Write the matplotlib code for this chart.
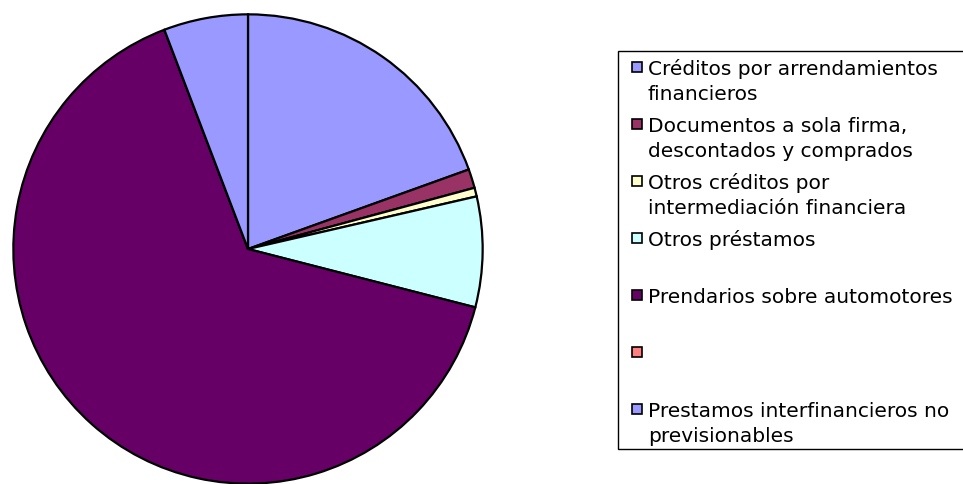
import matplotlib
matplotlib.use("Agg")
import matplotlib.pyplot as plt
from matplotlib.patches import Rectangle

# data (percent of total)
labels = [
    "Créditos por arrendamientos\nfinancieros",
    "Documentos a sola firma,\ndescontados y comprados",
    "Otros créditos por\nintermediación financiera",
    "Otros préstamos",
    "Prendarios sobre automotores",
    "",
    "Prestamos interfinancieros no\nprevisionables",
]
values = [19.5, 1.3, 0.6, 7.6, 65.2, 0.0, 5.8]
colors = ["#9999FF", "#993366", "#FFFFCC", "#CCFFFF", "#660066", "#FF8080", "#9999FF"]

W, H = 963, 485
fig = plt.figure(figsize=(W / 100, H / 100), dpi=100)
fig.patch.set_facecolor("white")

# pie: centre (248, 250) px, radius 237 px
cx, cy, r = 248, 250, 237
ax = fig.add_axes([(cx - r) / W, (H - cy - r) / H, 2 * r / W, 2 * r / H])
ax.pie(values, colors=colors, startangle=90, counterclock=False,
       wedgeprops=dict(edgecolor="black", linewidth=1.6))
ax.set_xlim(-1.01, 1.01)
ax.set_ylim(-1.01, 1.01)
ax.set_aspect("equal")
ax.axis("off")


def fx(x):
    return x / W


def fy(y):
    return 1 - y / H


# legend box drawn by hand so every entry gets the same slot height
box = Rectangle((fx(618), fy(450)), fx(965) - fx(618), fy(52) - fy(450),
                transform=fig.transFigure, facecolor="white", edgecolor="black",
                linewidth=1.0, zorder=1)
fig.patches.append(box)

slot = 57
line_gap = 25
for i, (lab, col) in enumerate(zip(labels, colors)):
    center = 68 + slot * i
    sq = Rectangle((fx(632), fy(center + 5)), fx(10), 10 / H,
                   transform=fig.transFigure, facecolor=col, edgecolor="black",
                   linewidth=1.2, zorder=2)
    fig.patches.append(sq)
    for j, line in enumerate(lab.split("\n")):
        fig.text(fx(648), fy(center + 7 + line_gap * j), line,
                 fontsize=14.5, family="DejaVu Sans", va="baseline", ha="left",
                 color="black", zorder=3)

fig.savefig("out.png", dpi=100, facecolor="white")
